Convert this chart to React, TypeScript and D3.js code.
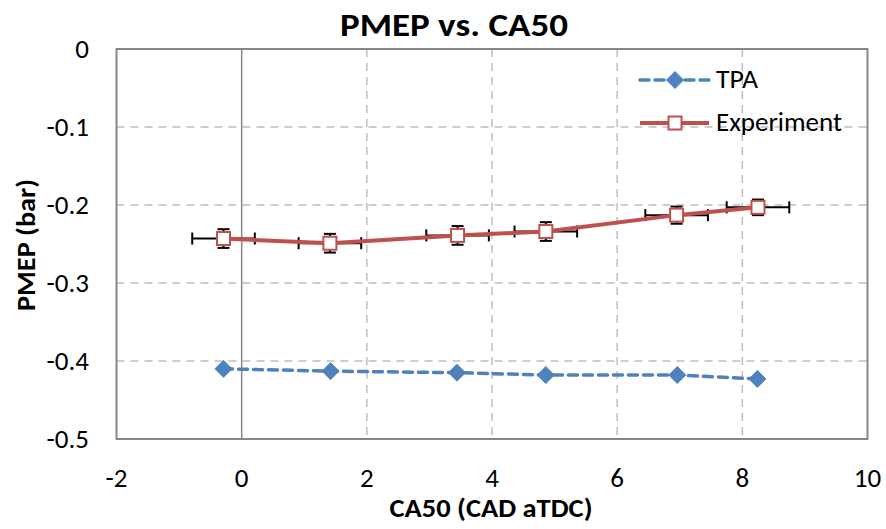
import React from "react";
import * as d3 from "d3";

// CA50 (CAD aTDC) and PMEP (bar) for each operating point
const tpaCa50 = [-0.29, 1.42, 3.44, 4.86, 6.96, 8.24];
const tpaPmep = [-0.41, -0.413, -0.415, -0.418, -0.418, -0.423];

const expCa50 = [-0.29, 1.41, 3.45, 4.86, 6.95, 8.25];
const expPmep = [-0.243, -0.249, -0.239, -0.234, -0.213, -0.203];
const expCa50Err = [0.5, 0.5, 0.5, 0.5, 0.5, 0.5];
const expPmepErr = [0.012, 0.012, 0.012, 0.012, 0.011, 0.01];

const xTicks = [-2, 0, 2, 4, 6, 8, 10];
const yTicks = [0, -0.1, -0.2, -0.3, -0.4, -0.5];

const seriesNames = ["TPA", "Experiment"];

const W = 886;
const H = 529;
const FONT = "Carlito, Lato, 'Open Sans', sans-serif";
const BLUE = "#4F81BD";
const RED = "#C0504D";

export default function App() {
  const x = d3.scaleLinear().domain([-2, 10]).range([116.5, 867.5]);
  const y = d3.scaleLinear().domain([0, -0.5]).range([49, 439]);

  const line = d3
    .line<[number, number]>()
    .x((d) => x(d[0]))
    .y((d) => y(d[1]));

  const tpa = tpaCa50.map((v, i) => [v, tpaPmep[i]] as [number, number]);
  const exp = expCa50.map((v, i) => [v, expPmep[i]] as [number, number]);

  const diamond = (cx: number, cy: number, r: number) =>
    `M${cx},${cy - r}L${cx + r},${cy}L${cx},${cy + r}L${cx - r},${cy}Z`;

  const cap = 6;
  const fmt = (t: number) => (t === 0 ? "0" : String(t));

  return (
    <svg
      width={W}
      height={H}
      style={{ position: "absolute", left: 0, top: 0, background: "#fff" }}
      fontFamily={FONT}
    >
      <rect x={0} y={0} width={W} height={H} fill="#fff" />
      <text
        x={454}
        y={36}
        textAnchor="middle"
        fontSize={32}
        fontWeight="bold"
        fill="#000"
        textLength={228}
        lengthAdjust="spacingAndGlyphs"
      >
        PMEP vs. CA50
      </text>

      {/* gridlines */}
      {xTicks
        .filter((t) => t !== -2 && t !== 0 && t !== 10)
        .map((t) => (
          <line
            key={"gx" + t}
            x1={x(t)}
            x2={x(t)}
            y1={y(0)}
            y2={y(-0.5)}
            stroke="#BFBFBF"
            strokeWidth={1.5}
            strokeDasharray="8,6"
          />
        ))}
      {yTicks
        .filter((t) => t !== 0 && t !== -0.5)
        .map((t) => (
          <line
            key={"gy" + t}
            x1={x(-2)}
            x2={x(10)}
            y1={y(t)}
            y2={y(t)}
            stroke="#BFBFBF"
            strokeWidth={1.5}
            strokeDasharray="8,6"
          />
        ))}

      {/* vertical axis at zero */}
      <line x1={x(0)} x2={x(0)} y1={y(0)} y2={y(-0.5)} stroke="#868686" strokeWidth={1.5} />

      {/* plot frame */}
      <rect
        x={x(-2)}
        y={y(0)}
        width={x(10) - x(-2)}
        height={y(-0.5) - y(0)}
        fill="none"
        stroke="#868686"
        strokeWidth={2}
      />

      {/* tick labels */}
      {yTicks.map((t) => (
        <text key={"ty" + t} x={89} y={y(t) + 9} textAnchor="end" fontSize={27} fill="#000">
          {fmt(t)}
        </text>
      ))}
      {xTicks.map((t) => (
        <text key={"tx" + t} x={x(t)} y={487} textAnchor="middle" fontSize={27} fill="#000">
          {t}
        </text>
      ))}

      <text
        x={491}
        y={517}
        textAnchor="middle"
        fontSize={26}
        fontWeight="bold"
        fill="#000"
        textLength={203}
        lengthAdjust="spacingAndGlyphs"
      >
        CA50 (CAD aTDC)
      </text>
      <text
        transform={`translate(35,${245}) rotate(-90)`}
        textAnchor="middle"
        fontSize={26}
        fontWeight="bold"
        fill="#000"
        textLength={132}
        lengthAdjust="spacingAndGlyphs"
      >
        PMEP (bar)
      </text>

      {/* TPA series */}
      <path
        d={line(tpa) || ""}
        fill="none"
        stroke={BLUE}
        strokeWidth={3.5}
        strokeDasharray="9,6"
        strokeLinecap="round"
      />
      {tpa.map((d, i) => (
        <path key={"tp" + i} d={diamond(x(d[0]), y(d[1]), 8.5)} fill={BLUE} stroke={BLUE} strokeWidth={1} />
      ))}

      {/* Experiment error bars */}
      {exp.map((d, i) => {
        const cx = x(d[0]);
        const cy = y(d[1]);
        const xl = x(d[0] - expCa50Err[i]);
        const xr = x(d[0] + expCa50Err[i]);
        const yt = y(d[1] + expPmepErr[i]);
        const yb = y(d[1] - expPmepErr[i]);
        return (
          <g key={"eb" + i} stroke="#000" strokeWidth={2}>
            <line x1={xl} x2={xr} y1={cy} y2={cy} />
            <line x1={xl} x2={xl} y1={cy - cap} y2={cy + cap} />
            <line x1={xr} x2={xr} y1={cy - cap} y2={cy + cap} />
            <line x1={cx} x2={cx} y1={yt} y2={yb} />
            <line x1={cx - cap} x2={cx + cap} y1={yt} y2={yt} />
            <line x1={cx - cap} x2={cx + cap} y1={yb} y2={yb} />
          </g>
        );
      })}

      {/* Experiment series */}
      <path d={line(exp) || ""} fill="none" stroke={RED} strokeWidth={4} strokeLinejoin="round" />
      {exp.map((d, i) => (
        <rect
          key={"ep" + i}
          x={x(d[0]) - 6.5}
          y={y(d[1]) - 6.5}
          width={13}
          height={13}
          fill="#fff"
          stroke={RED}
          strokeWidth={2}
        />
      ))}

      {/* legend */}
      <g>
        <line x1={640} x2={709} y1={80} y2={80} stroke={BLUE} strokeWidth={3.5} strokeDasharray="9,6" strokeLinecap="round" />
        <path d={diamond(675, 80, 8.5)} fill={BLUE} stroke={BLUE} strokeWidth={1} />
        <text x={716} y={88} fontSize={26} fill="#000" textLength={42} lengthAdjust="spacingAndGlyphs">
          {seriesNames[0]}
        </text>
        <line x1={640} x2={709} y1={123} y2={123} stroke={RED} strokeWidth={4} />
        <rect x={668.5} y={116.5} width={13} height={13} fill="#fff" stroke={RED} strokeWidth={2} />
        <text x={716} y={131} fontSize={26} fill="#000" textLength={126} lengthAdjust="spacingAndGlyphs">
          {seriesNames[1]}
        </text>
      </g>
    </svg>
  );
}
